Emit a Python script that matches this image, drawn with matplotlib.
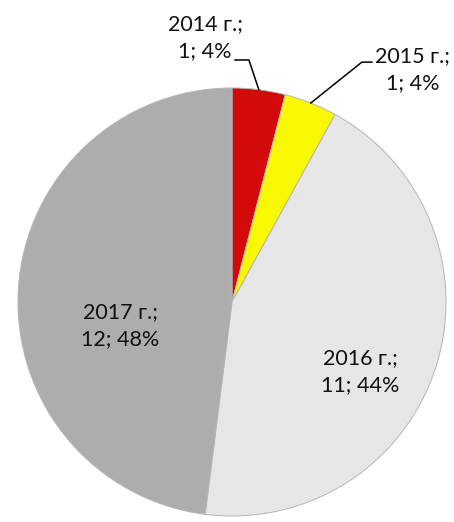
import numpy as np
import matplotlib
matplotlib.use("Agg")
import matplotlib.pyplot as plt

years = ["2014 г.", "2015 г.", "2016 г.", "2017 г."]
counts = [1, 1, 11, 12]
shares = [4, 4, 44, 48]
colors = ["#d20a0a", "#f8f800", "#e6e6e6", "#adadad"]

plt.rcParams['font.family'] = ['Lato', 'DejaVu Sans']

fig = plt.figure(figsize=(4.54, 5.22), dpi=100)
ax = fig.add_axes([18 / 454, 6 / 522, 428 / 454, 428 / 522])

wedges, _ = ax.pie(counts, colors=colors, startangle=90, counterclock=False,
                   radius=1, wedgeprops=dict(edgecolor="#b5b5b5", linewidth=0.7))
ax.set_xlim(-1, 1)
ax.set_ylim(-1, 1)
ax.set_aspect("equal")
ax.axis("off")

labels = [f"{y};\n{c}; {s}%" for y, c, s in zip(years, counts, shares)]

# label block positions (data units, pie radius = 1)
label_pos = [(-0.126, 1.235), (0.845, 1.085), (0.598, -0.327), (-0.523, -0.112)]
# elbow of the leader line for the outside labels
elbows = {0: [(0.014, 1.131), (0.079, 1.131)], 1: [(0.654, 1.121), (0.607, 1.121)]}

for i, w in enumerate(wedges):
    ax.text(*label_pos[i], labels[i], ha="center", va="center", fontsize=15.5,
            color="#111111", linespacing=1.45)
    if i in elbows:
        mid = np.deg2rad((w.theta1 + w.theta2) / 2)
        end = (np.cos(mid), np.sin(mid))
        pts = elbows[i] + [end]
        xs, ys = zip(*pts)
        ax.plot(xs, ys, color="black", lw=1.1, clip_on=False)

fig.savefig("out.png", dpi=100)
